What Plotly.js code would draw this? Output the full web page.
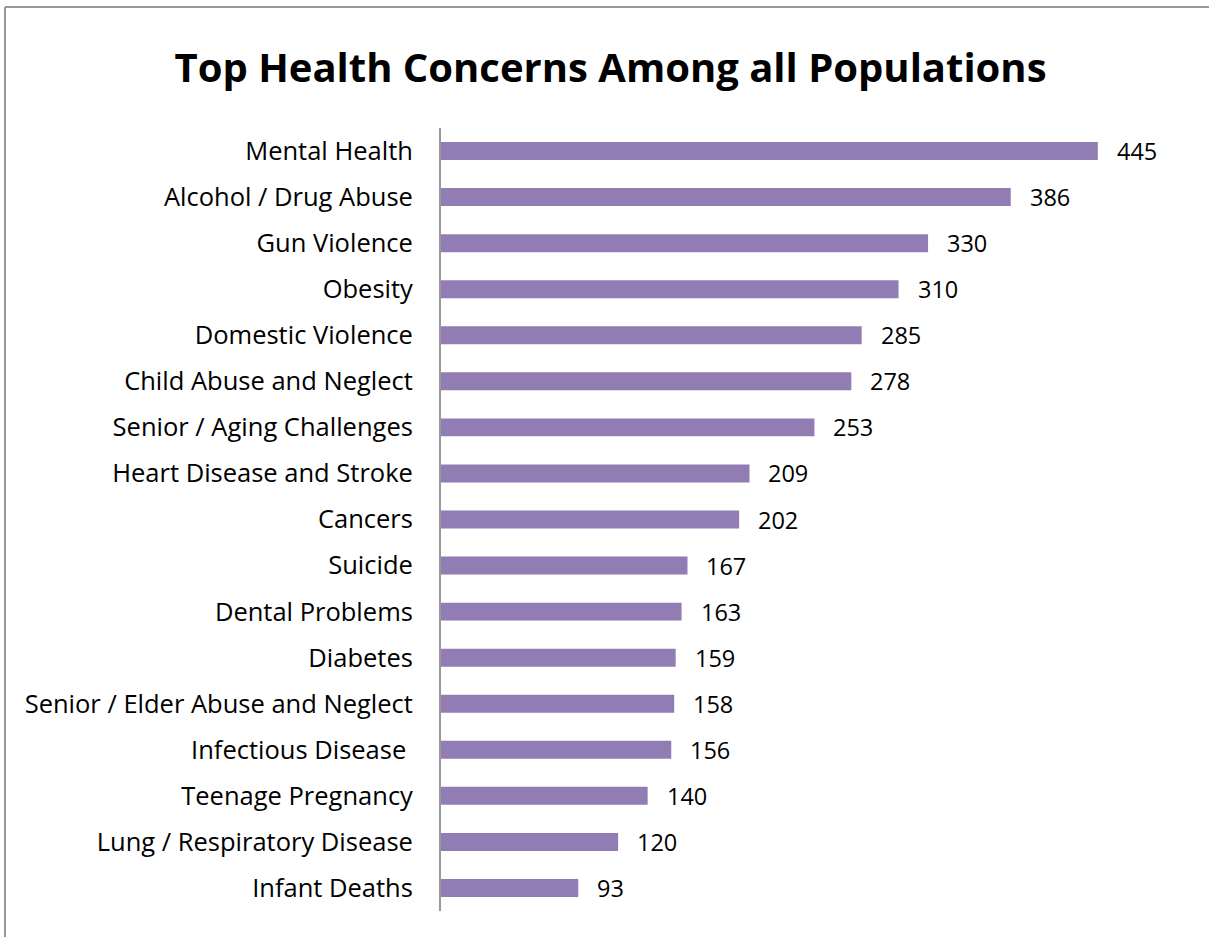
<!DOCTYPE html>
<html>
<head>
<meta charset="utf-8">
<script src="https://cdn.plot.ly/plotly-3.0.1.min.js"></script>
<style>
html,body{margin:0;padding:0;background:#fff;overflow:hidden;}
#chart{width:1209px;height:937px;}
</style>
</head>
<body>
<div id="chart"></div>
<script>
const categories = [
  "Mental Health",
  "Alcohol / Drug Abuse",
  "Gun Violence",
  "Obesity",
  "Domestic Violence",
  "Child Abuse and Neglect",
  "Senior / Aging Challenges",
  "Heart Disease and Stroke",
  "Cancers",
  "Suicide",
  "Dental Problems",
  "Diabetes",
  "Senior / Elder Abuse and Neglect",
  "Infectious Disease ",
  "Teenage Pregnancy",
  "Lung / Respiratory Disease",
  "Infant Deaths"
];
const values = [445, 386, 330, 310, 285, 278, 253, 209, 202, 167, 163, 159, 158, 156, 140, 120, 93];

const W = 1209, H = 937;
const M = {l: 441, r: 30, t: 128, b: 26};
const pw = W - M.l - M.r, ph = H - M.t - M.b;
// frame (outer chart border) in paper coordinates
const fx = (5 - M.l) / pw, fy = 1 + (M.t - 7) / ph, fyb = -(M.b + 5) / ph, fxr = 1 + (M.r + 5) / pw;

const trace = {
  type: 'bar',
  orientation: 'h',
  y: categories,
  x: values,
  marker: {color: '#927CB4'},
  hoverinfo: 'x+y'
};

const annotations = values.map((v, i) => ({
  x: v, y: categories[i], xref: 'x', yref: 'y',
  text: String(v), showarrow: false,
  xanchor: 'left', xshift: 17,
  font: {family: 'Open Sans, sans-serif', size: 23.5, color: '#000'}
}));

const layout = {
  width: W, height: H,
  margin: M,
  paper_bgcolor: '#fff', plot_bgcolor: '#fff',
  title: {
    text: '<b>Top Health Concerns Among all Populations</b>',
    x: 0.505, xanchor: 'center', y: 0.927, yanchor: 'middle',
    font: {family: 'Open Sans, sans-serif', size: 40, color: '#000'}
  },
  bargap: 0.61,
  showlegend: false,
  xaxis: {range: [0, 500], showgrid: false, zeroline: false, showticklabels: false, ticks: '', showline: false, fixedrange: true},
  yaxis: {
    autorange: 'reversed', type: 'category',
    showline: true, linecolor: '#999', linewidth: 2,
    ticks: '', showgrid: false, ticklabelstandoff: 21,
    tickfont: {family: 'Open Sans, sans-serif', size: 25.5, color: '#000'}
  },
  shapes: [
    {type: 'line', xref: 'paper', yref: 'paper', x0: fx, x1: fx, y0: fy, y1: fyb, line: {color: '#999', width: 2}},
    {type: 'line', xref: 'paper', yref: 'paper', x0: fx, x1: fxr, y0: fy, y1: fy, line: {color: '#999', width: 2}}
  ],
  annotations: annotations
};

Plotly.newPlot('chart', [trace], layout, {displayModeBar: false, staticPlot: true});
</script>
</body>
</html>
